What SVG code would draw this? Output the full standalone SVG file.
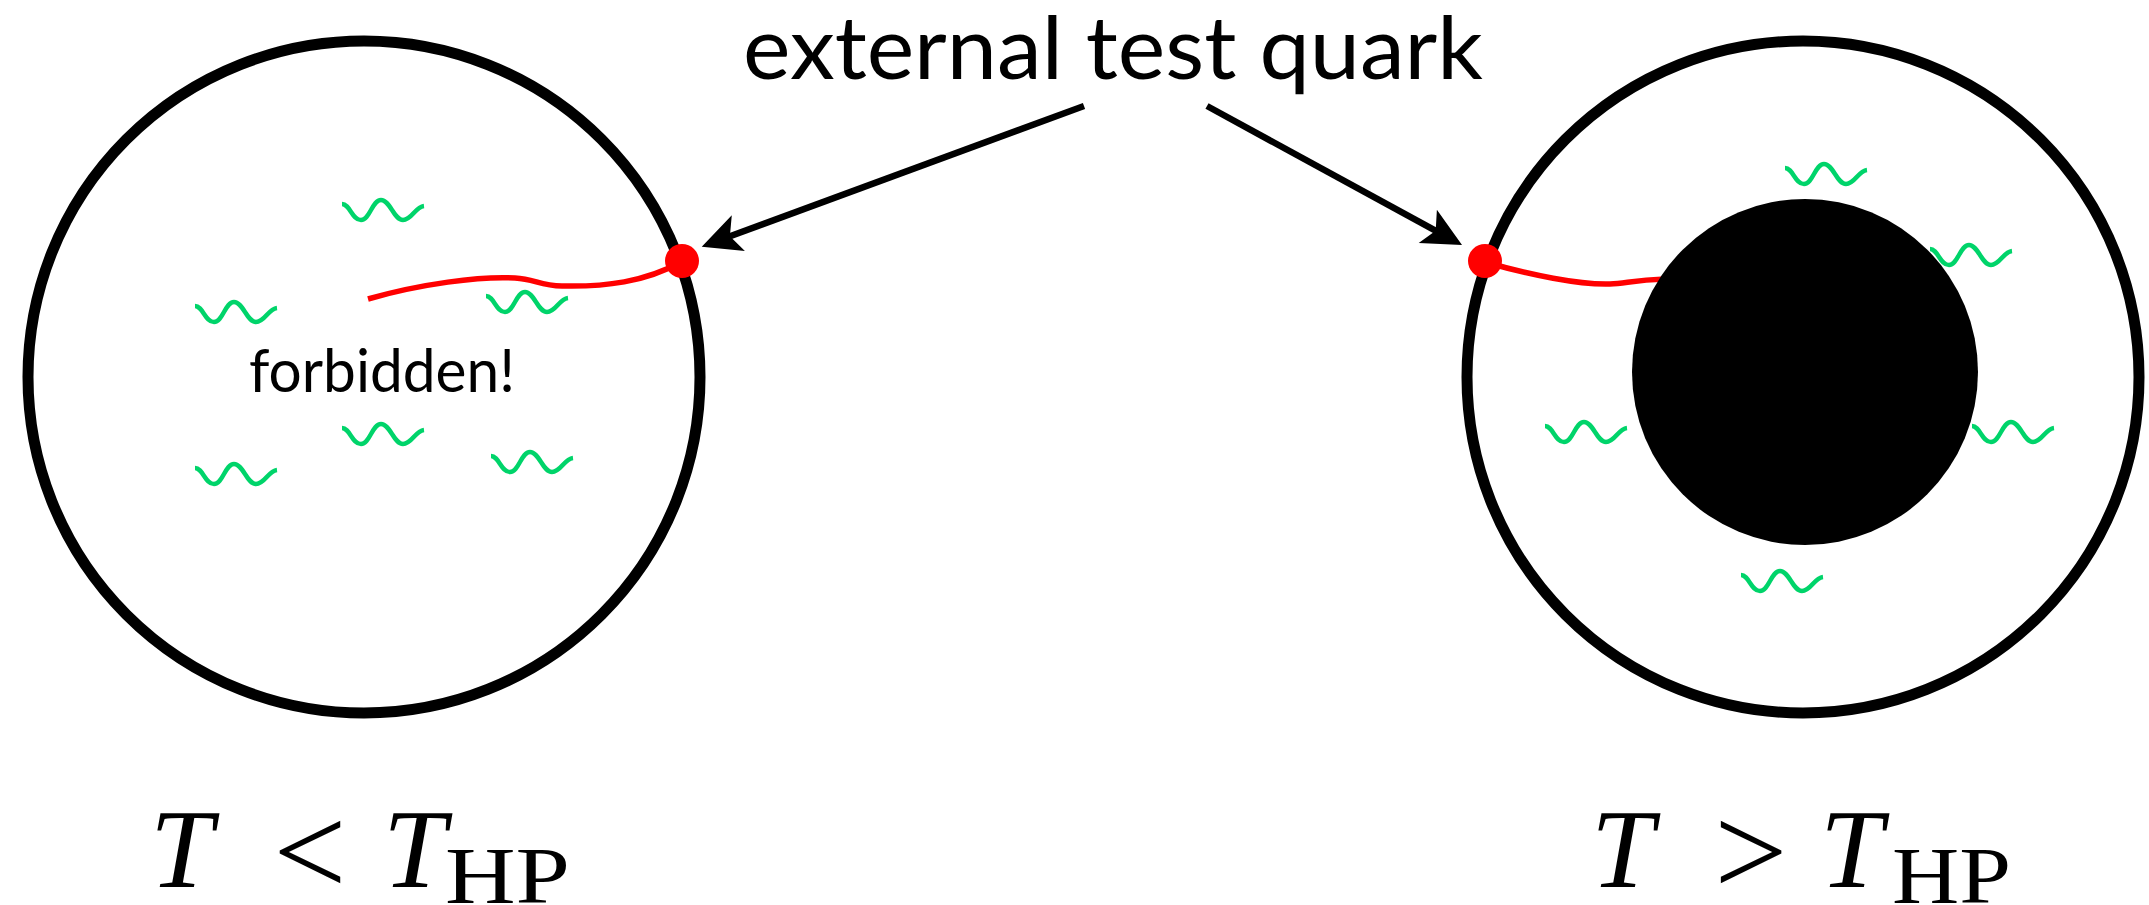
<svg xmlns="http://www.w3.org/2000/svg" width="2149" height="905" viewBox="0 0 2149 905">
<style>
.ring{fill:none;stroke:#000;stroke-width:11}
.wig{fill:none;stroke:#00D46A;stroke-width:4.5}
.quark{fill:none;stroke:#FF0000;stroke-width:5.5}
.dot{fill:#FF0000}
.arrow{fill:none;stroke:#000;stroke-width:6.5;marker-end:url(#ah)}
.sans{font-family:Lato,"Open Sans","Liberation Sans",sans-serif;fill:#000}
.math{font-family:"Liberation Serif","DejaVu Serif",serif;fill:#000}
.it{font-style:italic}
</style>
<defs>
<path id="wig" class="wig" d="M0,0 C8,0 10,16 19,16 C28,16 30,-4 39,-4 C48,-4 52,16 61,16 C70,16 73,3 82,2"/>
<marker id="ah" markerUnits="userSpaceOnUse" viewBox="-35 -25 50 50" markerWidth="50" markerHeight="50" refX="0" refY="0" orient="auto" overflow="visible">
<path d="M12,0 L-27,-19 L-18,0 L-27,19 Z" fill="#000"/>
</marker>
</defs>
<rect width="2149" height="905" fill="#fff"/>

<g id="title">
<text class="sans" x="743" y="79" font-size="88" textLength="740" lengthAdjust="spacingAndGlyphs">external test quark</text>
</g>

<g id="left-system">
<circle class="ring" cx="364" cy="377" r="336"/>
<path class="quark" d="M368,299 C420,284 480,276 515,278 C535,279 540,286 562,286 C605,287 645,282 681,262"/>
<g id="left-gluons">
<use href="#wig" x="342" y="204"/>
<use href="#wig" x="195" y="306"/>
<use href="#wig" x="486" y="296"/>
<use href="#wig" x="342" y="428"/>
<use href="#wig" x="195" y="468"/>
<use href="#wig" x="491" y="456"/>
</g>
<text class="sans" x="249" y="392" font-size="60" textLength="266" lengthAdjust="spacingAndGlyphs">forbidden!</text>
<circle id="left-quark" class="dot" cx="682" cy="261" r="17"/>
</g>

<g id="right-system">
<circle class="ring" cx="1803" cy="377" r="336"/>
<path class="quark" d="M1485,262 C1530,275 1580,285 1610,284 C1625,284 1632,280 1665,279"/>
<circle id="hot-core" cx="1805" cy="372" r="173" fill="#000"/>
<g id="right-gluons">
<use href="#wig" x="1785" y="168"/>
<use href="#wig" x="1930" y="249"/>
<use href="#wig" x="1545" y="426"/>
<use href="#wig" x="1972" y="426"/>
<use href="#wig" x="1741" y="575"/>
</g>
<circle id="right-quark" class="dot" cx="1485" cy="261" r="17"/>
</g>

<g id="connectors">
<path class="arrow" d="M1084,106 L713,242.5"/>
<path class="arrow" d="M1207,106 L1451.5,239.3"/>
</g>

<g id="label-left">
<text class="math it" x="150" y="887" font-size="113">T</text>
<text class="math" x="310" y="895" font-size="130" text-anchor="middle">&lt;</text>
<text class="math it" x="383" y="887" font-size="113">T</text>
<text class="math" x="445" y="903" font-size="80" textLength="125" lengthAdjust="spacingAndGlyphs">HP</text>
</g>

<g id="label-right">
<text class="math it" x="1591" y="887" font-size="113">T</text>
<text class="math" x="1751" y="895" font-size="130" text-anchor="middle">&gt;</text>
<text class="math it" x="1820" y="887" font-size="113">T</text>
<text class="math" x="1892" y="903" font-size="80" textLength="119" lengthAdjust="spacingAndGlyphs">HP</text>
</g>
</svg>
